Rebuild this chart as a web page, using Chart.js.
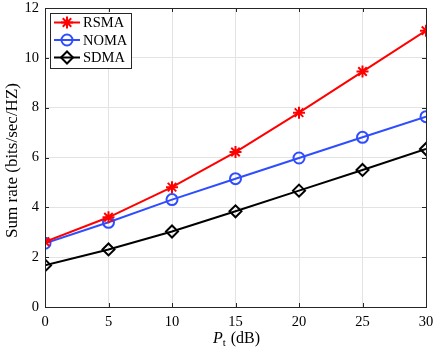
<!DOCTYPE html>
<html>
<head>
<meta charset="utf-8">
<script src="https://cdn.jsdelivr.net/npm/chart.js@4/dist/chart.umd.min.js"></script>
<style>
  html, body { margin: 0; padding: 0; background: #fff; }
  #wrap { width: 436px; height: 351px; }
</style>
</head>
<body>
<div id="wrap"><canvas id="c" width="436" height="351"></canvas></div>
<script>
// transmit power (dB)
const powerDb = [0, 5, 10, 15, 20, 25, 30];
const rsma = [2.62, 3.60, 4.81, 6.22, 7.80, 9.45, 11.09];
const noma = [2.56, 3.40, 4.31, 5.15, 5.98, 6.81, 7.64];
const sdma = [1.67, 2.31, 3.03, 3.84, 4.67, 5.50, 6.34];
const yTicks = [0, 2, 4, 6, 8, 10, 12];

const FONT = "'Liberation Serif', 'Times New Roman', serif";
const AXIS = "#262626";

const series = [
  { label: "RSMA", values: rsma, color: "#ff0000", style: "star", r: 6 },
  { label: "NOMA", values: noma, color: "#2f4dff", style: "circle", r: 5.5 },
  { label: "SDMA", values: sdma, color: "#000000", style: "rectRot", r: 6 }
];

const frame = {
  id: "frame",
  afterDraw(chart) {
    const { ctx, chartArea: a, scales } = chart;
    ctx.save();
    // inward tick marks on all four sides
    ctx.strokeStyle = AXIS;
    ctx.lineWidth = 1;
    ctx.beginPath();
    powerDb.forEach((v) => {
      const x = Math.round(scales.x.getPixelForValue(v)) + 0.5;
      ctx.moveTo(x, a.bottom); ctx.lineTo(x, a.bottom - 4);
      ctx.moveTo(x, a.top); ctx.lineTo(x, a.top + 4);
    });
    yTicks.forEach((v) => {
      const y = Math.round(scales.y.getPixelForValue(v)) + 0.5;
      ctx.moveTo(a.left, y); ctx.lineTo(a.left + 4, y);
      ctx.moveTo(a.right, y); ctx.lineTo(a.right - 4, y);
    });
    ctx.stroke();
    ctx.strokeRect(Math.round(a.left) + 0.5, Math.round(a.top) + 0.5,
      Math.round(a.right - a.left), Math.round(a.bottom - a.top));

    // legend
    const lx = 50.5, ly = 13.5, lw = 81, lh = 55;
    ctx.fillStyle = "#fff";
    ctx.fillRect(lx, ly, lw, lh);
    ctx.strokeRect(lx, ly, lw, lh);
    series.forEach((s, i) => {
      const y = 22.5 + i * 17.5;
      ctx.strokeStyle = s.color;
      ctx.lineWidth = 2;
      ctx.beginPath();
      ctx.moveTo(54, y); ctx.lineTo(80, y);
      ctx.stroke();
      ctx.fillStyle = "rgba(0,0,0,0)";
      Chart.helpers.drawPoint(ctx, { pointStyle: s.style, radius: s.r, borderWidth: 2, rotation: 0 }, 67, y);
      ctx.fillStyle = "#000";
      ctx.font = "14.5px " + FONT;
      ctx.textBaseline = "middle";
      ctx.textAlign = "left";
      ctx.fillText(s.label, 83, y + 1);
    });

    // axis titles
    ctx.fillStyle = "#000";
    ctx.textBaseline = "middle";
    const cx = (a.left + a.right) / 2 + 1;
    const ty = 339;
    ctx.font = "italic 16px " + FONT;
    const wP = ctx.measureText("P").width;
    ctx.font = "11px " + FONT;
    const wt = ctx.measureText("t").width;
    ctx.font = "16px " + FONT;
    const rest = "(dB)";
    const gap = 5;
    const wr = ctx.measureText(rest).width;
    let x0 = cx - (wP + wt + gap + wr) / 2;
    ctx.textAlign = "left";
    ctx.font = "italic 16px " + FONT;
    ctx.fillText("P", x0, ty);
    ctx.font = "11px " + FONT;
    ctx.fillText("t", x0 + wP, ty + 4);
    ctx.font = "16px " + FONT;
    ctx.fillText(rest, x0 + wP + wt + gap, ty);

    ctx.translate(12.5, (a.top + a.bottom) / 2 + 3);
    ctx.rotate(-Math.PI / 2);
    ctx.textAlign = "center";
    ctx.font = "17px " + FONT;
    ctx.fillText("Sum rate (bits/sec/HZ)", 0, 0);
    ctx.restore();
  }
};

new Chart(document.getElementById("c"), {
  type: "line",
  data: {
    datasets: series.map((s) => ({
      label: s.label,
      data: powerDb.map((x, i) => ({ x, y: s.values[i] })),
      borderColor: s.color,
      backgroundColor: "rgba(0,0,0,0)",
      borderWidth: 2,
      pointStyle: s.style,
      pointRadius: s.r,
      pointBorderWidth: 2,
      pointBorderColor: s.color,
      pointBackgroundColor: "rgba(0,0,0,0)",
      tension: 0
    }))
  },
  options: {
    responsive: false,
    animation: false,
    layout: { padding: { left: 0, top: 7, right: 10, bottom: 0 } },
    plugins: { legend: { display: false }, tooltip: { enabled: false } },
    scales: {
      x: {
        type: "linear", min: 0, max: 30,
        afterFit: (s) => { s.height = 44; s.paddingLeft = 0; s.paddingRight = 0; },
        afterBuildTicks: (s) => { s.ticks = powerDb.map((v) => ({ value: v })); },
        grid: { color: "#e3e3e3", drawTicks: false },
        border: { display: false },
        ticks: { color: "#000", font: { family: FONT, size: 14.5 }, padding: 6, maxRotation: 0 }
      },
      y: {
        min: 0, max: 12,
        afterFit: (s) => { s.width = 45; s.paddingTop = 0; s.paddingBottom = 0; },
        afterBuildTicks: (s) => { s.ticks = yTicks.map((v) => ({ value: v })); },
        grid: { color: "#e3e3e3", drawTicks: false },
        border: { display: false },
        ticks: { color: "#000", font: { family: FONT, size: 14.5 }, padding: 6 }
      }
    }
  },
  plugins: [frame]
});
</script>
</body>
</html>
